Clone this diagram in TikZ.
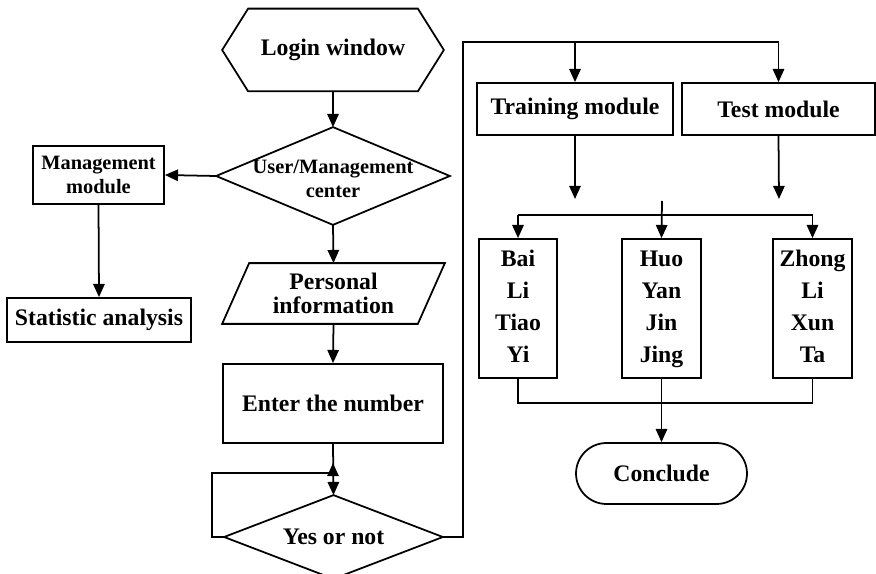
\documentclass[tikz,border=0pt]{standalone}
\usepackage{fontspec}
\setmainfont{Liberation Serif}
\usetikzlibrary{arrows.meta, calc, shapes.misc}

\begin{document}
\begin{tikzpicture}[x=0.02cm, y=-0.02cm, line width=1pt,
    txt/.style={inner sep=0pt, align=center,
        font=\fontsize{13.5}{13.7}\selectfont\bfseries},
    smalltxt/.style={inner sep=0pt, align=center,
        font=\fontsize{11.6}{13.9}\selectfont\bfseries},
    tall/.style={inner sep=0pt, align=center,
        font=\fontsize{13.5}{18.2}\selectfont\bfseries},
    box/.style={rectangle, draw},
    stadium/.style={rounded rectangle, draw},
    arrow/.style={-{Triangle[length=7.5pt, width=6.5pt]}}
]
\useasboundingbox (0,0) rectangle (876,574);

% left column
\node[txt, minimum width=4.4cm, minimum height=1.62cm] (login) at (333,50) {Login window};
\node[smalltxt, minimum width=4.64cm, minimum height=1.92cm] (usermgmt) at (333,176) {\rule{0pt}{11pt}User/Management\\center};
\node[box, smalltxt, minimum width=2.62cm, minimum height=1.16cm] (mgmt) at (98.5,175) {Management\\module};
\node[box, txt, minimum width=3.68cm, minimum height=0.88cm] (stat) at (99,320) {Statistic analysis};
\node[txt, minimum width=4.42cm, minimum height=1.18cm] (personal) at (333.5,293.5) {Personal\\information};
\node[box, txt, minimum width=4.4cm, minimum height=1.58cm] (enter) at (333,403.5) {Enter the number};
\node[txt, minimum width=4.34cm, minimum height=1.64cm] (yesno) at (333.5,537) {Yes or not};

% outlines
\draw (login.west) -- ($(login.north west)+(26,0)$) -- ($(login.north east)+(-26,0)$)
      -- (login.east) -- ($(login.south east)+(-26,0)$) -- ($(login.south west)+(26,0)$) -- cycle;
\draw (usermgmt.west) -- (usermgmt.north) -- (usermgmt.east) -- (usermgmt.south) -- cycle;
\draw (personal.south west) -- ($(personal.north west)+(27,0)$) -- (personal.north east)
      -- ($(personal.south east)+(-27,0)$) -- cycle;
\draw (yesno.west) -- (yesno.north) -- (yesno.east) -- (yesno.south) -- cycle;

% right part
\node[box, txt, minimum width=3.92cm, minimum height=1.04cm] (train) at (575,109) {Training module};
\node[box, txt, minimum width=3.86cm, minimum height=1.04cm] (test) at (778.5,109) {Test module};
\node[box, tall, minimum width=1.56cm, minimum height=2.78cm] (bai) at (518,308.5) {\strut Bai\\Li\\Tiao\\Yi\strut};
\node[box, tall, minimum width=1.58cm, minimum height=2.78cm] (huo) at (661.5,308.5) {\strut Huo\\Yan\\Jin\\Jing\strut};
\node[box, tall, minimum width=1.58cm, minimum height=2.78cm] (zhong) at (812.5,308.5) {\strut Zhong\\Li\\Xun\\Ta\strut};
\node[stadium, txt, minimum width=3.42cm, minimum height=1.22cm] (conclude) at (661.5,473.5) {Conclude};

\coordinate (loopj) at (333,473);
\coordinate (rail) at (463,42);
\coordinate (trainend) at (575,199);
\coordinate (testend) at (779,199);
\coordinate (busc) at (662,201);
\coordinate (bus) at (662,215);
\coordinate (join) at (662,403);

% connectors
\draw[arrow] (login.south) -- (usermgmt.north);
\draw[arrow] (usermgmt.west) -- (mgmt.east);
\draw[arrow] (mgmt.south) -- (stat.north);
\draw[arrow] (usermgmt.south) -- (personal.north);
\draw[arrow] (personal.south) -- (enter.north);
\draw[arrow] (enter.south) -- (yesno.north);
\draw[arrow] (yesno.west) -- ++(-12,0) |- (loopj) -- ++(0,-10);
\draw (yesno.east) -| (rail) -- (test.north |- rail);
\draw[arrow] (train.north |- rail) -- (train.north);
\draw[arrow] (test.north |- rail) -- (test.north);
\draw[arrow] (train.south) -- (trainend);
\draw[arrow] (test.south) -- (testend);
\draw (bai.north |- bus) -- (zhong.north |- bus);
\draw[arrow] (bai.north |- bus) -- (bai.north);
\draw[arrow] (zhong.north |- bus) -- (zhong.north);
\draw[arrow] (busc) -- (huo.north);
\draw (bai.south) |- (join) -| (zhong.south);
\draw[arrow] (huo.south) -- (conclude.north);
\end{tikzpicture}
\end{document}
